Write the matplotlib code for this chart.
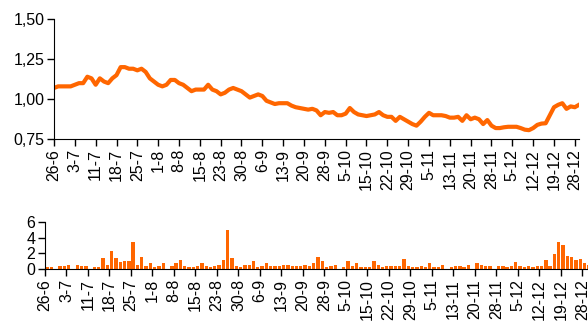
# Price line with daily volume bars underneath
import numpy as np
import matplotlib
matplotlib.use('Agg')
import matplotlib.pyplot as plt

plt.rcParams['font.family'] = 'Liberation Sans'

# tick labels, one every 5 trading days
date_labels = ['26-6', '3-7', '11-7', '18-7', '25-7', '1-8', '8-8', '15-8', '23-8',
               '30-8', '6-9', '13-9', '20-9', '28-9', '5-10', '15-10', '22-10',
               '29-10', '5-11', '13-11', '20-11', '28-11', '5-12', '12-12',
               '19-12', '28-12']

# daily closing price
price = [1.07, 1.08, 1.08, 1.08, 1.08, 1.09, 1.10, 1.10, 1.14, 1.13,
         1.09, 1.13, 1.11, 1.10, 1.13, 1.15, 1.20, 1.20, 1.19, 1.19,
         1.18, 1.19, 1.17, 1.13, 1.11, 1.09, 1.08, 1.09, 1.12, 1.12,
         1.10, 1.09, 1.07, 1.05, 1.06, 1.06, 1.06, 1.09, 1.06, 1.05,
         1.03, 1.04, 1.06, 1.07, 1.06, 1.05, 1.03, 1.01, 1.02, 1.03,
         1.02, 0.99, 0.98, 0.97, 0.975, 0.975, 0.975, 0.96, 0.95, 0.945,
         0.94, 0.935, 0.94, 0.93, 0.90, 0.92, 0.915, 0.92, 0.90, 0.90,
         0.91, 0.945, 0.92, 0.905, 0.90, 0.895, 0.90, 0.905, 0.92, 0.90,
         0.89, 0.89, 0.865, 0.89, 0.875, 0.86, 0.845, 0.835, 0.86, 0.89,
         0.915, 0.90, 0.90, 0.90, 0.895, 0.885, 0.885, 0.89, 0.865, 0.90,
         0.875, 0.885, 0.875, 0.845, 0.87, 0.835, 0.82, 0.82, 0.825, 0.828,
         0.828, 0.828, 0.82, 0.81, 0.807, 0.82, 0.84, 0.848, 0.85, 0.90,
         0.95, 0.965, 0.975, 0.94, 0.955, 0.95, 0.965]

# daily volume (millions)
volume = [0.25, 0.25, 0, 0.4, 0.4, 0.6, 0, 0.6, 0.4, 0.4,
          0, 0.25, 0.25, 1.4, 0.6, 2.3, 1.4, 0.9, 1.0, 1.0,
          3.4, 0.6, 1.5, 0.4, 0.8, 0.25, 0.4, 0.8, 0, 0.4,
          0.8, 1.2, 0.4, 0.25, 0.25, 0.4, 0.8, 0.4, 0.25, 0.4,
          0.6, 1.2, 4.9, 1.4, 0.4, 0.25, 0.6, 0.6, 1.0, 0.25,
          0.4, 0.8, 0.4, 0.4, 0.4, 0.6, 0.6, 0.4, 0.4, 0.4,
          0.6, 0.4, 0.8, 1.5, 1.0, 0.25, 0.4, 0.6, 0, 0.25,
          1.0, 0.4, 0.8, 0.25, 0.25, 0.25, 1.0, 0.6, 0.25, 0.4,
          0.4, 0.4, 0.4, 1.35, 0.4, 0.25, 0.25, 0.4, 0.25, 0.76,
          0.25, 0.25, 0.6, 0, 0.25, 0.4, 0.4, 0.25, 0.6, 0,
          0.76, 0.6, 0.4, 0.4, 0, 0.4, 0.4, 0.25, 0.4, 0.97,
          0.4, 0.25, 0.4, 0.25, 0.4, 0.4, 1.2, 0.4, 1.9, 3.4,
          3.1, 1.7, 1.5, 1.2, 1.35, 0.8, 0.6]

orange = '#ff6600'
n = len(price)
days = np.arange(n)
tick_pos = np.arange(0, 5 * len(date_labels), 5)

fig = plt.figure(figsize=(5.88, 3.22), dpi=100)

# top panel: price
ax1 = fig.add_axes([54 / 588, 182.7 / 322, 525 / 588, 120.3 / 322])
ax1.plot(days, price, color=orange, lw=3, solid_joinstyle='round')
ax1.set_xlim(0, n - 1)
ax1.set_ylim(0.75, 1.50)
ax1.set_yticks([0.75, 1.00, 1.25, 1.50])
ax1.set_yticklabels(['0,75', '1,00', '1,25', '1,50'])
ax1.set_xticks(tick_pos)
ax1.set_xticklabels(date_labels, rotation=90)

# bottom panel: volume
ax2 = fig.add_axes([45 / 588, 52.7 / 322, 546 / 588, 47.6 / 322])
ax2.bar(days + 0.5, volume, width=0.78, color=orange)
ax2.set_xlim(0, n)
ax2.set_ylim(0, 6)
ax2.set_yticks([0, 2, 4, 6])
ax2.set_xticks(tick_pos)
ax2.set_xticklabels(date_labels, rotation=90)

for ax in (ax1, ax2):
    ax.spines['top'].set_visible(False)
    ax.spines['right'].set_visible(False)
    ax.tick_params(labelsize=11.5, length=5, width=1, colors='black', pad=2)

fig.savefig('out.png', dpi=100)
